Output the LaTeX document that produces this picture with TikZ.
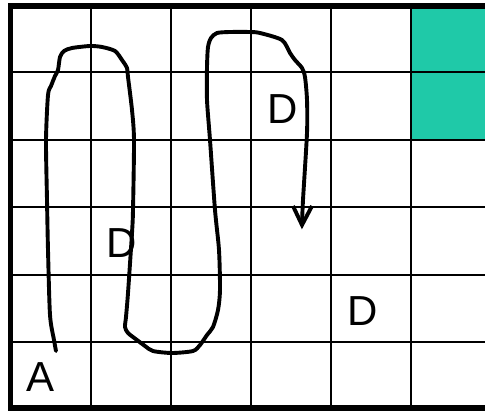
\documentclass[tikz,border=0pt]{standalone}
\usepackage{fontspec}
\setmainfont{Liberation Sans}
\definecolor{teal1}{HTML}{1FC9A8}
\begin{document}
\begin{tikzpicture}[x=1pt,y=-1pt,
  gridline/.style={line width=2.4pt,black},
  border/.style={line width=5.5pt,black},
  curve/.style={line width=3.9pt,black,line cap=round,line join=round},
  lbl/.style={inner sep=0pt,font=\fontsize{42}{42}\selectfont}]
\useasboundingbox (0,0) rectangle (485,410);
\begin{scope}
\clip (0,0) rectangle (485,410);
\fill[teal1] (411,6) rectangle (490,140);
\foreach \x in {91,171,251,331,411} \draw[gridline] (\x,6) -- (\x,408);
\foreach \y in {72,140,207,275,342} \draw[gridline] (10.7,\y) -- (490,\y);
\draw[border] (490,6) -- (10.7,6) -- (10.7,408) -- (490,408);
\end{scope}
\node[lbl] (a) at (41,377) {A};
\node[lbl] (d1) at (282.5,109) {D};
\node[lbl] (d2) at (122,243) {D};
\node[lbl] (d3) at (362.5,311) {D};
\coordinate (start) at (56,351);
\coordinate (tip) at (302,225);
\draw[curve] plot[smooth,tension=0.45] coordinates {
 (56,351) (54,340) (50,315) (48,250) (47,200) (46,140) (48,95) (51,86) (55,76) (58,70)
 (60,57) (64,51) (72,48) (90,46) (102,47) (115,51) (122,60) (127,68) (128,77)
 (132,110) (134,140) (133,210) (132,233) (128,293) (126,317) (125,327) (128,333)
 (137,340) (145,346) (153,351) (172,353) (193,351) (200,345) (207,335) (213,327)
 (218,310) (220,290) (219,250) (215,210) (210,140) (207,100) (207,67) (208,47)
 (211,38) (217,33) (230,32) (250,32) (260,33) (282,40) (290,53) (295,60) (302,68)
 (305,77) (307,100) (307,133) (303,200) (302,224)};
\draw[curve,line join=miter,line cap=butt] (293,206) -- (tip) -- (312,206);
\end{tikzpicture}
\end{document}
